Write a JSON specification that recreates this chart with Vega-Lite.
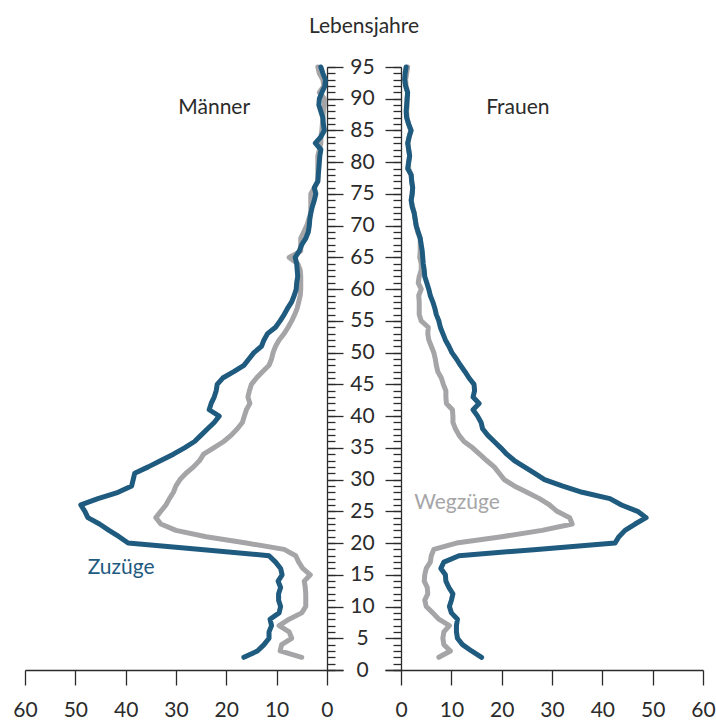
{
  "$schema": "https://vega.github.io/schema/vega-lite/v6.json",
  "padding": {"left": 12, "top": 16, "right": 2, "bottom": 2},
  "title": {"text": "Lebensjahre", "fontSize": 21, "fontWeight": "normal", "color": "#2b2b2b", "font": "Lato", "anchor": "middle", "offset": 19},
  "datasets": {
    "mz": [{"age":2,"value":16.5},{"age":3,"value":13.8},{"age":4,"value":12.5},{"age":5,"value":11.5},{"age":6,"value":11.5},{"age":7,"value":11.0},{"age":8,"value":11.3},{"age":9,"value":9.5},{"age":10,"value":9.2},{"age":11,"value":9.6},{"age":12,"value":9.6},{"age":13,"value":9.2},{"age":14,"value":9.7},{"age":15,"value":8.9},{"age":16,"value":9.2},{"age":17,"value":10.2},{"age":18,"value":11.5},{"age":19,"value":25},{"age":20,"value":39.5},{"age":21,"value":41.3},{"age":22,"value":43.3},{"age":23,"value":45.2},{"age":24,"value":47.5},{"age":25,"value":48.1},{"age":26,"value":48.9},{"age":27,"value":45.5},{"age":28,"value":41.5},{"age":29,"value":38.8},{"age":30,"value":38.5},{"age":31,"value":38.2},{"age":32,"value":35.5},{"age":33,"value":33},{"age":34,"value":30.5},{"age":35,"value":28.3},{"age":36,"value":26.3},{"age":37,"value":25},{"age":38,"value":23.7},{"age":39,"value":22.4},{"age":40,"value":21.4},{"age":41,"value":23.4},{"age":42,"value":23.0},{"age":43,"value":22.4},{"age":44,"value":22.0},{"age":45,"value":21.8},{"age":46,"value":20.7},{"age":47,"value":18.5},{"age":48,"value":16.5},{"age":49,"value":15.5},{"age":50,"value":14.5},{"age":51,"value":13},{"age":52,"value":12.5},{"age":53,"value":11.8},{"age":54,"value":10.2},{"age":55,"value":9.3},{"age":56,"value":8.5},{"age":57,"value":7.8},{"age":58,"value":7.0},{"age":59,"value":6.5},{"age":60,"value":6.1},{"age":61,"value":6.0},{"age":62,"value":5.8},{"age":63,"value":5.9},{"age":64,"value":6.0},{"age":65,"value":6.3},{"age":66,"value":5.5},{"age":67,"value":5.0},{"age":68,"value":4.2},{"age":69,"value":3.7},{"age":70,"value":3.5},{"age":71,"value":3.4},{"age":72,"value":3.2},{"age":73,"value":2.9},{"age":74,"value":2.5},{"age":75,"value":2.2},{"age":76,"value":2.5},{"age":77,"value":1.8},{"age":78,"value":1.7},{"age":79,"value":1.6},{"age":80,"value":1.5},{"age":81,"value":1.4},{"age":82,"value":1.2},{"age":83,"value":2.3},{"age":84,"value":1.2},{"age":85,"value":0.5},{"age":86,"value":0.7},{"age":87,"value":0.8},{"age":88,"value":1.2},{"age":89,"value":1.6},{"age":90,"value":1.5},{"age":91,"value":1.0},{"age":92,"value":0.4},{"age":93,"value":0.3},{"age":94,"value":0.8},{"age":95,"value":1.2}],
    "mw": [{"age":2,"value":5.0},{"age":3,"value":9.3},{"age":4,"value":9.0},{"age":5,"value":7.0},{"age":6,"value":7.5},{"age":7,"value":9.5},{"age":8,"value":7.5},{"age":9,"value":5.0},{"age":10,"value":4.2},{"age":11,"value":4.2},{"age":12,"value":4.2},{"age":13,"value":4.3},{"age":14,"value":4.5},{"age":15,"value":3.3},{"age":16,"value":4.8},{"age":17,"value":5.6},{"age":18,"value":6.2},{"age":19,"value":8.5},{"age":20,"value":16},{"age":21,"value":24},{"age":22,"value":30},{"age":23,"value":33},{"age":24,"value":34},{"age":25,"value":33},{"age":26,"value":32},{"age":27,"value":31.3},{"age":28,"value":30.5},{"age":29,"value":30},{"age":30,"value":29.2},{"age":31,"value":28},{"age":32,"value":26.5},{"age":33,"value":25.3},{"age":34,"value":24.5},{"age":35,"value":22.5},{"age":36,"value":20.5},{"age":37,"value":19},{"age":38,"value":17.8},{"age":39,"value":16.8},{"age":40,"value":16.4},{"age":41,"value":16},{"age":42,"value":15.3},{"age":43,"value":15.7},{"age":44,"value":15.4},{"age":45,"value":15},{"age":46,"value":14},{"age":47,"value":12.8},{"age":48,"value":11.5},{"age":49,"value":11},{"age":50,"value":10.7},{"age":51,"value":10.2},{"age":52,"value":9.5},{"age":53,"value":8.5},{"age":54,"value":7.7},{"age":55,"value":7},{"age":56,"value":6.4},{"age":57,"value":5.9},{"age":58,"value":5.6},{"age":59,"value":5.3},{"age":60,"value":5.2},{"age":61,"value":5.2},{"age":62,"value":5.2},{"age":63,"value":5.3},{"age":64,"value":5.8},{"age":65,"value":7.5},{"age":66,"value":5.2},{"age":67,"value":5.2},{"age":68,"value":5.2},{"age":69,"value":4.6},{"age":70,"value":4.0},{"age":71,"value":3.6},{"age":72,"value":3.2},{"age":73,"value":3.2},{"age":74,"value":3.2},{"age":75,"value":3.2},{"age":76,"value":2.5},{"age":77,"value":1.8},{"age":78,"value":1.8},{"age":79,"value":1.8},{"age":80,"value":1.8},{"age":81,"value":1.8},{"age":82,"value":1.5},{"age":83,"value":1.2},{"age":84,"value":1.2},{"age":85,"value":1.0},{"age":86,"value":0.9},{"age":87,"value":0.8},{"age":88,"value":0.7},{"age":89,"value":0.5},{"age":90,"value":0.5},{"age":91,"value":1.5},{"age":92,"value":0.6},{"age":93,"value":0.8},{"age":94,"value":1.5},{"age":95,"value":1.8}],
    "fz": [{"age":2,"value":16.0},{"age":3,"value":14.0},{"age":4,"value":12.2},{"age":5,"value":11.2},{"age":6,"value":11.0},{"age":7,"value":11.0},{"age":8,"value":11.2},{"age":9,"value":10.0},{"age":10,"value":9.6},{"age":11,"value":10.0},{"age":12,"value":10.3},{"age":13,"value":9.5},{"age":14,"value":8.9},{"age":15,"value":8.8},{"age":16,"value":7.9},{"age":17,"value":8.5},{"age":18,"value":11.5},{"age":19,"value":27},{"age":20,"value":42.5},{"age":21,"value":43.3},{"age":22,"value":44.5},{"age":23,"value":46.5},{"age":24,"value":48.7},{"age":25,"value":47},{"age":26,"value":43.8},{"age":27,"value":41.5},{"age":28,"value":36},{"age":29,"value":32},{"age":30,"value":28.5},{"age":31,"value":26.5},{"age":32,"value":24.5},{"age":33,"value":22.5},{"age":34,"value":21},{"age":35,"value":19.8},{"age":36,"value":18.5},{"age":37,"value":17.2},{"age":38,"value":16.2},{"age":39,"value":15.9},{"age":40,"value":15.2},{"age":41,"value":14.3},{"age":42,"value":15.5},{"age":43,"value":14.3},{"age":44,"value":14.6},{"age":45,"value":14.5},{"age":46,"value":13.5},{"age":47,"value":12.7},{"age":48,"value":11.8},{"age":49,"value":11},{"age":50,"value":10.1},{"age":51,"value":9.5},{"age":52,"value":8.8},{"age":53,"value":8.3},{"age":54,"value":7.8},{"age":55,"value":7.5},{"age":56,"value":7.0},{"age":57,"value":6.7},{"age":58,"value":6.3},{"age":59,"value":5.8},{"age":60,"value":5.5},{"age":61,"value":5.1},{"age":62,"value":4.7},{"age":63,"value":4.6},{"age":64,"value":4.4},{"age":65,"value":4.3},{"age":66,"value":4.2},{"age":67,"value":4.0},{"age":68,"value":3.8},{"age":69,"value":3.4},{"age":70,"value":3.0},{"age":71,"value":2.8},{"age":72,"value":2.6},{"age":73,"value":2.2},{"age":74,"value":2.0},{"age":75,"value":2.2},{"age":76,"value":2.3},{"age":77,"value":2.1},{"age":78,"value":2.0},{"age":79,"value":1.3},{"age":80,"value":1.5},{"age":81,"value":1.7},{"age":82,"value":1.5},{"age":83,"value":1.3},{"age":84,"value":1.6},{"age":85,"value":2.0},{"age":86,"value":1.5},{"age":87,"value":1.1},{"age":88,"value":1.0},{"age":89,"value":1.1},{"age":90,"value":1.2},{"age":91,"value":1.3},{"age":92,"value":0.9},{"age":93,"value":0.7},{"age":94,"value":0.8},{"age":95,"value":1.0}],
    "fw": [{"age":2,"value":7.5},{"age":3,"value":9.8},{"age":4,"value":8.5},{"age":5,"value":8.3},{"age":6,"value":8.5},{"age":7,"value":9.6},{"age":8,"value":7.5},{"age":9,"value":6.3},{"age":10,"value":5.0},{"age":11,"value":4.7},{"age":12,"value":5.3},{"age":13,"value":5.2},{"age":14,"value":4.6},{"age":15,"value":4.7},{"age":16,"value":5.0},{"age":17,"value":5.8},{"age":18,"value":6.0},{"age":19,"value":6.5},{"age":20,"value":11},{"age":21,"value":20},{"age":22,"value":28},{"age":23,"value":34},{"age":24,"value":33.5},{"age":25,"value":31},{"age":26,"value":29.5},{"age":27,"value":27.5},{"age":28,"value":25},{"age":29,"value":22.5},{"age":30,"value":20.5},{"age":31,"value":19.5},{"age":32,"value":18.5},{"age":33,"value":17},{"age":34,"value":15.6},{"age":35,"value":14.2},{"age":36,"value":12.5},{"age":37,"value":11.5},{"age":38,"value":10.8},{"age":39,"value":10.3},{"age":40,"value":10.3},{"age":41,"value":10.2},{"age":42,"value":9.0},{"age":43,"value":8.9},{"age":44,"value":8.9},{"age":45,"value":8.4},{"age":46,"value":8.0},{"age":47,"value":7.3},{"age":48,"value":7.0},{"age":49,"value":6.8},{"age":50,"value":6.5},{"age":51,"value":6.0},{"age":52,"value":5.5},{"age":53,"value":5.3},{"age":54,"value":5.4},{"age":55,"value":4.0},{"age":56,"value":3.6},{"age":57,"value":3.6},{"age":58,"value":3.6},{"age":59,"value":3.5},{"age":60,"value":4.0},{"age":61,"value":3.4},{"age":62,"value":3.6},{"age":63,"value":4.0},{"age":64,"value":4.0},{"age":65,"value":3.7},{"age":66,"value":3.8},{"age":67,"value":3.8},{"age":68,"value":3.8},{"age":69,"value":3.3},{"age":70,"value":3.0},{"age":71,"value":2.8},{"age":72,"value":2.6},{"age":73,"value":2.3},{"age":74,"value":2.0},{"age":75,"value":2.2},{"age":76,"value":2.3},{"age":77,"value":2.1},{"age":78,"value":2.0},{"age":79,"value":1.5},{"age":80,"value":1.5},{"age":81,"value":1.7},{"age":82,"value":1.5},{"age":83,"value":1.4},{"age":84,"value":1.6},{"age":85,"value":1.9},{"age":86,"value":1.5},{"age":87,"value":1.2},{"age":88,"value":1.1},{"age":89,"value":1.2},{"age":90,"value":1.2},{"age":91,"value":1.3},{"age":92,"value":1.0},{"age":93,"value":0.9},{"age":94,"value":1.1},{"age":95,"value":1.3}],
    "lblL": [{"value": 22.4, "age": 88.6, "label": "Männer"}],
    "lblLz": [{"value": 40.9, "age": 16.1, "label": "Zuzüge"}],
    "lblR": [{"value": 23.2, "age": 88.6, "label": "Frauen"}],
    "lblRw": [{"value": 11.1, "age": 26.3, "label": "Wegzüge"}]
  },
  "spacing": 42,
  "bounds": "flush",
  "hconcat": [
    {
      "width": 318,
      "height": 603,
      "layer": [
        {
          "data": {"name": "mw"},
          "mark": {"type": "line", "color": "#a5a5a7", "strokeWidth": 5, "strokeCap": "round", "strokeJoin": "round"},
          "encoding": {
            "x": {"field": "value", "type": "quantitative", "scale": {"domain": [-3.2, 60], "reverse": true, "nice": false},
              "axis": {"values": [0, 10, 20, 30, 40, 50, 60], "title": null, "tickSize": 15, "labelPadding": 14, "labelFlush": false, "labelOverlap": false}},
            "y": {"field": "age", "type": "quantitative", "scale": {"domain": [0, 95], "nice": false},
              "axis": {"orient": "right", "offset": -16, "values": [0,1,2,3,4,5,6,7,8,9,10,11,12,13,14,15,16,17,18,19,20,21,22,23,24,25,26,27,28,29,30,31,32,33,34,35,36,37,38,39,40,41,42,43,44,45,46,47,48,49,50,51,52,53,54,55,56,57,58,59,60,61,62,63,64,65,66,67,68,69,70,71,72,73,74,75,76,77,78,79,80,81,82,83,84,85,86,87,88,89,90,91,92,93,94,95], "tickSize": 8, "labels": false, "domain": false, "title": null}},
            "order": {"field": "age", "type": "quantitative"}
          }
        },
        {
          "data": {"name": "mz"},
          "mark": {"type": "line", "color": "#1f5a7f", "strokeWidth": 5, "strokeCap": "round", "strokeJoin": "round"},
          "encoding": {
            "x": {"field": "value", "type": "quantitative", "scale": {"domain": [-3.2, 60], "reverse": true, "nice": false}},
            "y": {"field": "age", "type": "quantitative", "scale": {"domain": [0, 95], "nice": false},
              "axis": {"orient": "right", "offset": -16, "values": [0,5,10,15,20,25,30,35,40,45,50,55,60,65,70,75,80,85,90,95], "tickSize": 16, "labelAlign": "center", "labelPadding": 19, "labelOverlap": false, "labelFlush": false, "labelBound": false, "title": null}},
            "order": {"field": "age", "type": "quantitative"}
          }
        },
        {
          "data": {"name": "lblL"},
          "mark": {"type": "text", "fontSize": 21, "color": "#2b2b2b", "font": "Lato"},
          "encoding": {
            "x": {"field": "value", "type": "quantitative", "scale": {"domain": [-3.2, 60], "reverse": true, "nice": false}},
            "y": {"field": "age", "type": "quantitative", "scale": {"domain": [0, 95], "nice": false}, "axis": null},
            "text": {"field": "label"}
          }
        },
        {
          "data": {"name": "lblLz"},
          "mark": {"type": "text", "fontSize": 21, "color": "#1f5a7f", "font": "Lato"},
          "encoding": {
            "x": {"field": "value", "type": "quantitative", "scale": {"domain": [-3.2, 60], "reverse": true, "nice": false}},
            "y": {"field": "age", "type": "quantitative", "scale": {"domain": [0, 95], "nice": false}, "axis": null},
            "text": {"field": "label"}
          }
        }
      ],
      "resolve": {"axis": {"y": "independent"}}
    },
    {
      "width": 318,
      "height": 603,
      "layer": [
        {
          "data": {"name": "fw"},
          "mark": {"type": "line", "color": "#a5a5a7", "strokeWidth": 5, "strokeCap": "round", "strokeJoin": "round"},
          "encoding": {
            "x": {"field": "value", "type": "quantitative", "scale": {"domain": [-3.2, 60], "nice": false},
              "axis": {"values": [0, 10, 20, 30, 40, 50, 60], "title": null, "tickSize": 15, "labelPadding": 14, "labelFlush": false, "labelOverlap": false}},
            "y": {"field": "age", "type": "quantitative", "scale": {"domain": [0, 95], "nice": false},
              "axis": {"orient": "left", "offset": -16, "values": [0,1,2,3,4,5,6,7,8,9,10,11,12,13,14,15,16,17,18,19,20,21,22,23,24,25,26,27,28,29,30,31,32,33,34,35,36,37,38,39,40,41,42,43,44,45,46,47,48,49,50,51,52,53,54,55,56,57,58,59,60,61,62,63,64,65,66,67,68,69,70,71,72,73,74,75,76,77,78,79,80,81,82,83,84,85,86,87,88,89,90,91,92,93,94,95], "tickSize": 8, "labels": false, "domain": false, "title": null}},
            "order": {"field": "age", "type": "quantitative"}
          }
        },
        {
          "data": {"name": "fz"},
          "mark": {"type": "line", "color": "#1f5a7f", "strokeWidth": 5, "strokeCap": "round", "strokeJoin": "round"},
          "encoding": {
            "x": {"field": "value", "type": "quantitative", "scale": {"domain": [-3.2, 60], "nice": false}},
            "y": {"field": "age", "type": "quantitative", "scale": {"domain": [0, 95], "nice": false},
              "axis": {"orient": "left", "offset": -16, "values": [0,5,10,15,20,25,30,35,40,45,50,55,60,65,70,75,80,85,90,95], "tickSize": 16, "labels": false, "title": null}},
            "order": {"field": "age", "type": "quantitative"}
          }
        },
        {
          "data": {"name": "lblR"},
          "mark": {"type": "text", "fontSize": 21, "color": "#2b2b2b", "font": "Lato"},
          "encoding": {
            "x": {"field": "value", "type": "quantitative", "scale": {"domain": [-3.2, 60], "nice": false}},
            "y": {"field": "age", "type": "quantitative", "scale": {"domain": [0, 95], "nice": false}, "axis": null},
            "text": {"field": "label"}
          }
        },
        {
          "data": {"name": "lblRw"},
          "mark": {"type": "text", "fontSize": 21, "color": "#a5a5a7", "font": "Lato"},
          "encoding": {
            "x": {"field": "value", "type": "quantitative", "scale": {"domain": [-3.2, 60], "nice": false}},
            "y": {"field": "age", "type": "quantitative", "scale": {"domain": [0, 95], "nice": false}, "axis": null},
            "text": {"field": "label"}
          }
        }
      ],
      "resolve": {"axis": {"y": "independent"}}
    }
  ],
  "config": {
    "font": "Lato",
    "view": {"stroke": null},
    "axis": {"grid": false, "tickColor": "#2b2b2b", "domainColor": "#2b2b2b", "tickWidth": 1.3, "domainWidth": 1.3, "labelFontSize": 21, "labelColor": "#2b2b2b", "labelFont": "Lato"}
  }
}
